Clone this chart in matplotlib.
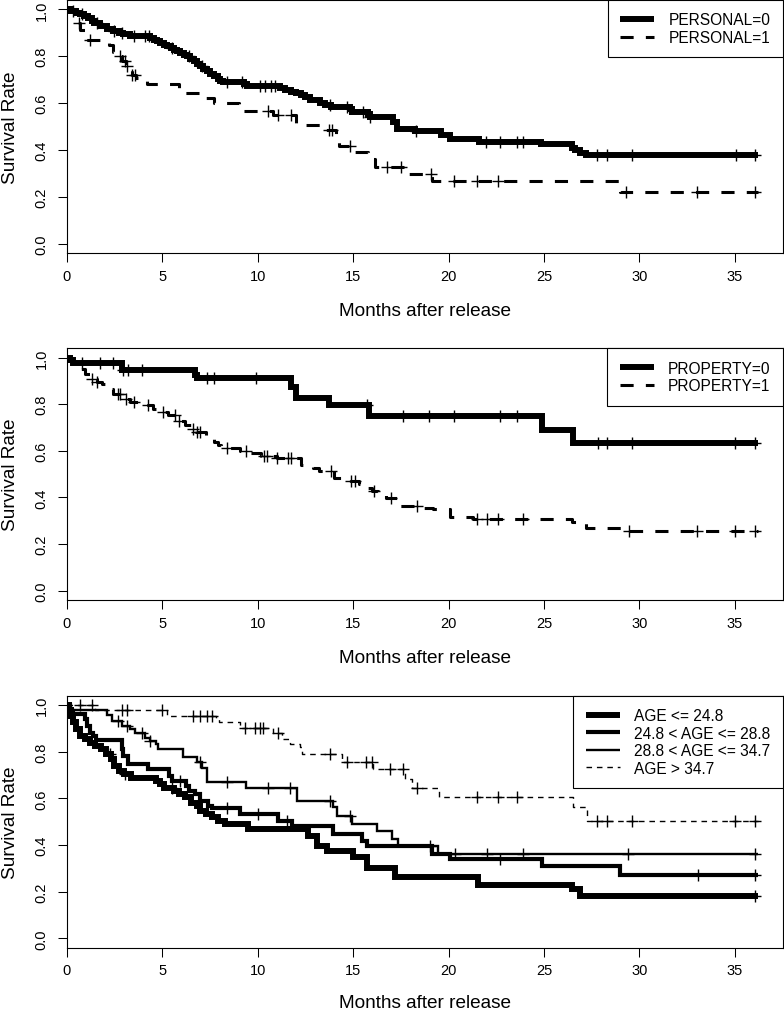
import numpy as np
import matplotlib
matplotlib.use("Agg")
import matplotlib.pyplot as plt

plt.rcParams['font.family'] = ['Liberation Sans', 'DejaVu Sans']

# ---------------- data ----------------
END = 36.2

# Panel 1: PERSONAL
pers0_t = [0.2, 0.5, 0.7, 0.9, 1.13, 1.3, 1.45, 1.75, 2.1, 2.45, 2.75, 2.97, 3.3, 4.35, 4.55, 4.75,
           4.9, 5.1, 5.25, 5.45, 5.6, 5.8, 5.95, 6.15, 6.3, 6.45, 6.65, 6.8, 7.0, 7.15, 7.35, 7.5,
           7.7, 7.9, 8.05, 8.2, 9.3, 9.45, 11.15, 11.45, 11.75, 12.0, 12.25, 12.5, 12.75, 13.25,
           13.55, 13.85, 14.85, 14.95, 15.8, 15.9, 17.1, 17.3, 18.25, 19.6, 20.1, 21.6, 24.85,
           26.45, 26.6, 26.9, 27.2]
pers0_s = [0.993, 0.986, 0.979, 0.971, 0.964, 0.952, 0.943, 0.928, 0.918, 0.907, 0.9, 0.893, 0.886,
           0.878, 0.871, 0.864, 0.857, 0.85, 0.843, 0.836, 0.828, 0.821, 0.814, 0.807, 0.8, 0.79,
           0.779, 0.768, 0.757, 0.746, 0.735, 0.725, 0.714, 0.703, 0.695, 0.69, 0.683, 0.675, 0.665,
           0.656, 0.648, 0.641, 0.634, 0.624, 0.613, 0.602, 0.593, 0.584, 0.573, 0.563, 0.552, 0.541,
           0.52, 0.491, 0.48, 0.463, 0.448, 0.434, 0.424, 0.41, 0.398, 0.388, 0.377]
pers0_c = [0.35, 0.8, 1.6, 2.5, 2.9, 3.5, 4.1, 4.3, 5.5, 6.4, 7.1, 8.4, 9.2, 10.1, 10.4, 10.7, 10.9,
           13.8, 14.7, 15.5, 15.9, 18.3, 21.97, 22.7, 23.6, 23.9, 27.76, 28.3, 29.6, 35.05, 36.05]

pers1_t = [0.55, 0.68, 0.95, 2.2, 2.45, 2.55, 2.9, 3.1, 3.2, 3.4, 3.65, 3.95, 4.2, 5.9, 6.0, 7.0,
           7.7, 9.0, 10.8, 12.0, 13.27, 14.1, 14.25, 15.1, 15.8, 16.15, 17.9, 19.15, 29.0]
pers1_s = [0.94, 0.914, 0.871, 0.85, 0.82, 0.8, 0.78, 0.76, 0.74, 0.72, 0.706, 0.696, 0.682, 0.66,
           0.643, 0.621, 0.6, 0.565, 0.549, 0.506, 0.484, 0.448, 0.417, 0.391, 0.36, 0.327, 0.298,
           0.269, 0.219]
pers1_c = [0.62, 1.22, 2.8, 3.06, 3.15, 3.4, 3.6, 10.53, 11.05, 11.75, 13.75, 13.9, 14.84, 16.79,
           17.5, 19.1, 20.3, 21.5, 22.6, 29.3, 33.0, 36.05]

# Panel 2: PROPERTY
prop0_t = [0.15, 0.35, 2.88, 6.7, 6.85, 11.75, 12.0, 13.75, 15.85, 24.88, 26.5]
prop0_s = [0.99, 0.976, 0.947, 0.925, 0.912, 0.876, 0.829, 0.798, 0.751, 0.691, 0.634]
prop0_c = [0.8, 1.75, 2.45, 2.97, 3.2, 3.95, 7.33, 7.7, 9.9, 15.75, 17.6, 19.0, 20.3, 22.7, 23.6,
           27.85, 28.3, 29.6, 35.0, 36.05]

prop1_t = [0.25, 0.45, 0.7, 0.96, 1.3, 1.57, 1.83, 2.1, 2.3, 2.45, 2.97, 3.3, 3.9, 4.5, 4.89, 5.3,
           5.85, 6.2, 6.55, 6.75, 7.3, 7.7, 7.9, 8.1, 9.1, 9.5, 10.2, 11.0, 12.25, 12.9, 13.2, 14.0,
           14.5, 15.3, 15.7, 16.0, 16.3, 16.7, 17.3, 17.45, 18.5, 19.2, 20.1, 21.3, 26.45, 27.2, 29.4]
prop1_s = [0.983, 0.966, 0.952, 0.93, 0.91, 0.895, 0.888, 0.877, 0.866, 0.845, 0.823, 0.809, 0.795,
           0.78, 0.766, 0.752, 0.73, 0.712, 0.695, 0.681, 0.66, 0.638, 0.627, 0.613, 0.6, 0.591,
           0.577, 0.57, 0.538, 0.525, 0.513, 0.484, 0.47, 0.456, 0.441, 0.427, 0.413, 0.399, 0.37,
           0.363, 0.356, 0.349, 0.316, 0.306, 0.296, 0.271, 0.256]
prop1_c = [1.31, 1.6, 2.71, 2.8, 3.1, 3.5, 4.24, 5.06, 5.67, 5.9, 6.6, 6.8, 7.0, 8.4, 9.4, 10.35,
           10.5, 11.0, 11.6, 11.75, 13.85, 14.9, 15.1, 16.1, 17.0, 18.33, 21.5, 22.0, 22.6, 23.9,
           29.45, 33.0, 35.0, 36.05]

# Panel 3: AGE groups
age1_t = [0.1, 0.2, 0.35, 0.5, 0.7, 0.96, 1.2, 1.47, 1.8, 2.06, 2.32, 2.5, 2.75, 3.0, 3.37, 4.7,
          4.9, 5.1, 5.6, 5.9, 6.2, 6.5, 6.8, 7.0, 7.3, 7.6, 7.9, 8.3, 9.5, 12.66, 13.1, 13.62,
          15.0, 15.72, 17.2, 21.56, 26.45, 26.89]
age1_s = [0.98, 0.953, 0.925, 0.896, 0.867, 0.853, 0.839, 0.825, 0.81, 0.789, 0.768, 0.739, 0.718,
          0.703, 0.689, 0.675, 0.66, 0.646, 0.632, 0.618, 0.604, 0.582, 0.568, 0.546, 0.532, 0.518,
          0.504, 0.489, 0.468, 0.439, 0.396, 0.375, 0.347, 0.302, 0.262, 0.23, 0.211, 0.183]
age1_c = [2.27, 3.05, 5.5, 36.05]

age2_t = [0.15, 0.35, 0.96, 1.05, 1.2, 1.4, 1.55, 2.87, 2.95, 3.2, 4.25, 5.35, 5.5, 6.25, 6.4, 6.7,
          7.0, 7.4, 7.6, 9.08, 11.08, 11.79, 13.97, 15.45, 15.72, 19.15, 20.08, 24.88, 28.99]
age2_s = [0.975, 0.96, 0.939, 0.91, 0.882, 0.867, 0.848, 0.81, 0.78, 0.746, 0.725, 0.696, 0.675,
          0.653, 0.632, 0.618, 0.589, 0.568, 0.557, 0.532, 0.504, 0.482, 0.446, 0.418, 0.394,
          0.361, 0.339, 0.308, 0.273]
age2_c = [5.95, 8.38, 10.04, 11.52, 19.05, 22.7, 33.09, 36.05]

age3_t = [0.1, 2.1, 2.35, 2.9, 3.3, 3.6, 4.1, 4.35, 4.7, 4.8, 6.1, 6.8, 7.07, 7.33, 9.39, 12.08,
          13.97, 14.14, 14.93, 16.24, 17.02, 17.37, 19.47]
age3_s = [0.977, 0.955, 0.932, 0.91, 0.896, 0.882, 0.86, 0.846, 0.832, 0.81, 0.775, 0.754, 0.732,
          0.672, 0.646, 0.589, 0.561, 0.525, 0.489, 0.458, 0.425, 0.394, 0.361]
age3_c = [2.7, 3.14, 3.93, 4.35, 7.0, 8.38, 10.56, 11.7, 13.79, 14.84, 20.34, 22.0, 23.9, 29.4, 36.05]

age4_t = [1.5, 5.24, 7.8, 8.0, 9.08, 10.82, 11.26, 11.7, 12.2, 12.3, 14.4, 16.06, 17.72, 18.07,
          19.52, 26.54, 27.24]
age4_s = [0.978, 0.953, 0.939, 0.925, 0.903, 0.882, 0.853, 0.832, 0.818, 0.789, 0.756, 0.725, 0.682,
          0.646, 0.604, 0.561, 0.504]
age4_c = [0.7, 1.3, 2.88, 3.14, 4.98, 6.63, 6.98, 7.33, 7.6, 9.34, 9.86, 10.13, 10.3, 11.08, 13.8,
          14.67, 15.7, 15.98, 16.94, 17.63, 18.33, 21.48, 22.61, 23.57, 27.76, 28.28, 29.6, 35.0,
          36.05]

x_ticks = [0, 5, 10, 15, 20, 25, 30, 35]
y_ticks = [0.0, 0.2, 0.4, 0.6, 0.8, 1.0]
x_label = "Months after release"
y_label = "Survival Rate"


def km(ax, t, s, cens, lw, dashes, label):
    t = np.asarray(t, float)
    s = np.asarray(s, float)
    x = np.concatenate([[0.0], t, [END]])
    y = np.concatenate([[1.0], s, [s[-1]]])
    line, = ax.step(x, y, where='post', color='black', lw=lw, label=label,
                    solid_capstyle='butt', dash_capstyle='butt', solid_joinstyle='miter')
    if dashes is not None:
        line.set_dashes(dashes)
    c = np.asarray(cens, float)
    yy = np.concatenate([[1.0], s])[np.searchsorted(t, c, side='right')]
    ax.plot(c, yy, linestyle='none', marker='+', color='black', ms=8, mew=1.0)
    return line


fig = plt.figure(figsize=(7.84, 10.12), dpi=100)
positions = [[0.0851, 0.749, 0.9132, 0.250],
             [0.0851, 0.4061, 0.9132, 0.2487],
             [0.0851, 0.0626, 0.9132, 0.249]]
axes = [fig.add_axes(p) for p in positions]
# baseline offset of the x label below each axes (pixels)
label_offsets = [62.0, 62.0, 59.0]

for ax, off in zip(axes, label_offsets):
    ax.set_xlim(0, 37.5)
    ax.set_ylim(-0.04, 1.04)
    ax.set_xticks(x_ticks)
    ax.set_yticks(y_ticks)
    ax.set_yticklabels([f"{v:.1f}" for v in y_ticks], rotation=90, va='center')
    ax.tick_params(direction='out', length=6.3, width=0.75, labelsize=10.5)
    ax.tick_params(axis='x', pad=5.0)
    ax.tick_params(axis='y', pad=6.7)
    for sp in ax.spines.values():
        sp.set_linewidth(0.8)
    ax.set_xlabel(x_label, fontsize=13.7, va='baseline')
    h_px = ax.get_position().height * 1012
    ax.xaxis.set_label_coords(0.5, -off / h_px)
    ax.set_ylabel(y_label, fontsize=13.7)
    ax.yaxis.set_label_coords(-0.0666, 0.5)

leg_kw = dict(loc='upper right', borderaxespad=0.0, fancybox=False, edgecolor='black',
              framealpha=1.0, fontsize=11.2, handlelength=2.2, handletextpad=0.9,
              labelspacing=0.16, borderpad=0.8)

# Panel 1
ax = axes[0]
h0 = km(ax, pers0_t, pers0_s, pers0_c, 4.3, None, "PERSONAL=0")
h1 = km(ax, pers1_t, pers1_s, pers1_c, 2.2, (4.3, 4.0), "PERSONAL=1")
lg = ax.legend(handles=[h0, h1], **leg_kw)
lg.get_frame().set_linewidth(0.8)

# Panel 2
ax = axes[1]
h0 = km(ax, prop0_t, prop0_s, prop0_c, 4.3, None, "PROPERTY=0")
h1 = km(ax, prop1_t, prop1_s, prop1_c, 2.2, (4.3, 4.0), "PROPERTY=1")
lg = ax.legend(handles=[h0, h1], **leg_kw)
lg.get_frame().set_linewidth(0.8)

# Panel 3
ax = axes[2]
h1 = km(ax, age1_t, age1_s, age1_c, 4.3, None, "AGE <= 24.8")
h2 = km(ax, age2_t, age2_s, age2_c, 3.0, None, "24.8 < AGE <= 28.8")
h3 = km(ax, age3_t, age3_s, age3_c, 1.7, None, "28.8 < AGE <= 34.7")
h4 = km(ax, age4_t, age4_s, age4_c, 1.0, (4.0, 3.5), "AGE > 34.7")
lg = ax.legend(handles=[h1, h2, h3, h4], **leg_kw)
lg.get_frame().set_linewidth(0.8)

fig.savefig("out.png", dpi=100)
